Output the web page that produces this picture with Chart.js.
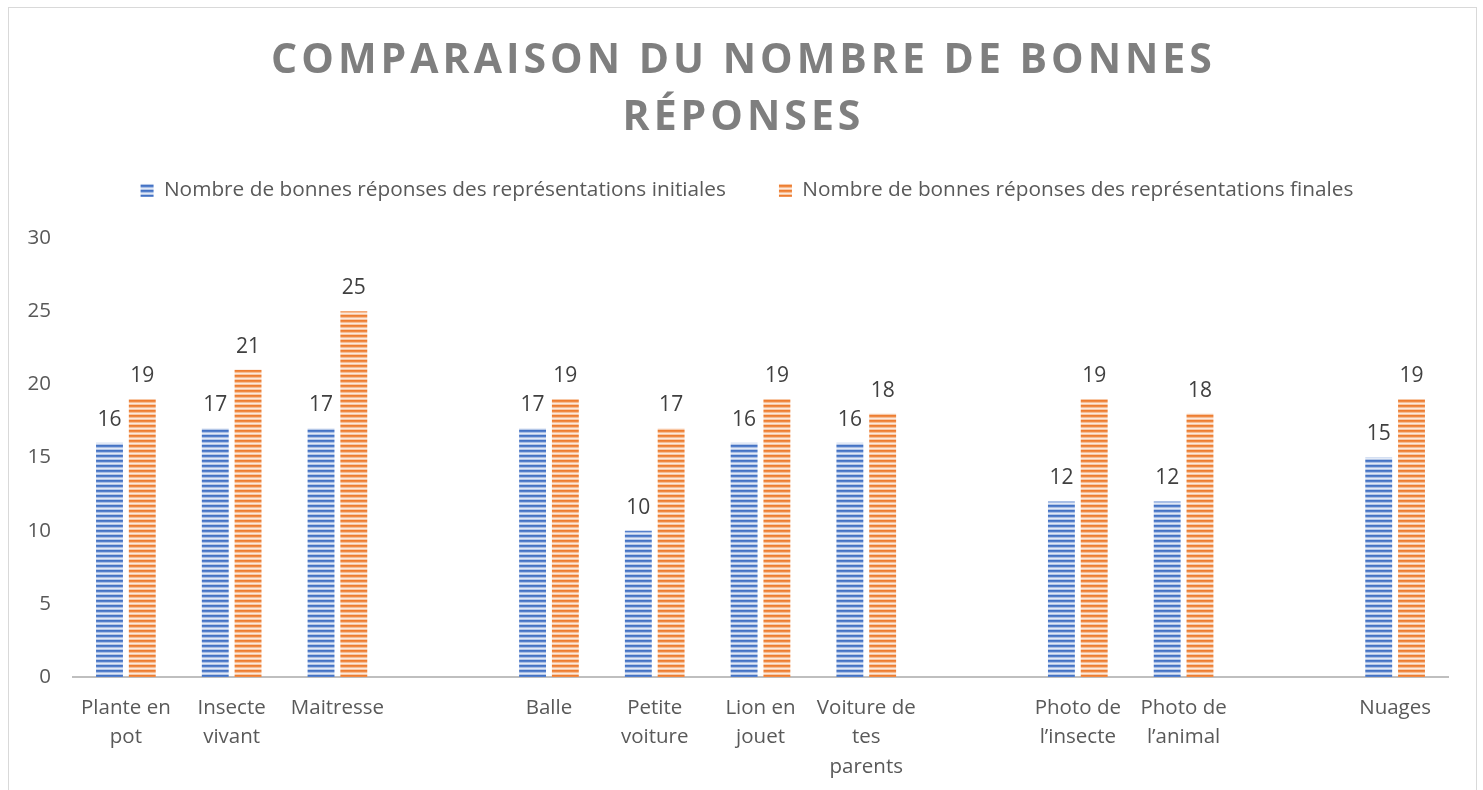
<!DOCTYPE html>
<html>
<head>
<meta charset="utf-8">
<script src="https://cdn.jsdelivr.net/npm/chart.js@4"></script>
<style>
  html, body { margin: 0; padding: 0; background: #fff; }
  #wrap { width: 1483px; height: 790px; }
</style>
</head>
<body>
<div id="wrap"><canvas id="chart"></canvas></div>
<script>
const categories = [
  ['Plante en', 'pot'], ['Insecte', 'vivant'], 'Maitresse', '',
  'Balle', ['Petite', 'voiture'], ['Lion en', 'jouet'], ['Voiture de', 'tes', 'parents'], '',
  ['Photo de', 'l’insecte'], ['Photo de', 'l’animal'], '', 'Nuages'
];
const initialValues = [16, 17, 17, null, 17, 10, 16, 16, null, 12, 12, null, 15];
const finalValues = [19, 21, 25, null, 19, 17, 19, 18, null, 19, 18, null, 19];
const seriesNames = [
  'Nombre de bonnes réponses des représentations initiales',
  'Nombre de bonnes réponses des représentations finales'
];
const titleLines = ['COMPARAISON DU NOMBRE DE BONNES', 'RÉPONSES'];

// horizontal stripes, like the Office pattern fill
function stripes(rows) {
  const c = document.createElement('canvas');
  c.width = 4; c.height = rows.length;
  const g = c.getContext('2d');
  rows.forEach((col, i) => { g.fillStyle = col; g.fillRect(0, i, 4, 1); });
  return g.createPattern(c, 'repeat');
}
const bluePattern = stripes(['#4472c4', '#5580cb', '#a9bfe6', '#e2e9f6', '#b4c7e7']);
const orangePattern = stripes(['#ed7d31', '#ef8a44', '#f6bd95', '#fce9dc', '#f8c8a6']);

const frame = {
  id: 'frame',
  beforeDraw(chart) {
    const ctx = chart.ctx;
    ctx.save();
    ctx.strokeStyle = '#d9d9d9';
    ctx.lineWidth = 1;
    ctx.strokeRect(8.5, 7.5, chart.width - 15, chart.height + 20);
    ctx.restore();
  },
  afterDraw(chart) {
    const ctx = chart.ctx;
    ctx.save();
    ctx.fillStyle = '#7f7f7f';
    ctx.font = 'bold 41px "Open Sans"';
    ctx.letterSpacing = '4px';
    ctx.textAlign = 'center';
    ctx.textBaseline = 'alphabetic';
    ctx.fillText(titleLines[0], chart.width / 2 + 2, 73);
    ctx.fillText(titleLines[1], chart.width / 2 + 2, 130);
    ctx.restore();
  }
};

const valueLabels = {
  id: 'valueLabels',
  afterDatasetsDraw(chart) {
    const ctx = chart.ctx;
    ctx.save();
    ctx.fillStyle = '#404040';
    ctx.font = '21px "Open Sans"';
    ctx.textAlign = 'center';
    ctx.textBaseline = 'middle';
    chart.data.datasets.forEach((ds, i) => {
      chart.getDatasetMeta(i).data.forEach((bar, j) => {
        if (ds.data[j] == null) return;
        ctx.fillText(ds.data[j], bar.x, bar.y - 23);
      });
    });
    ctx.restore();
  }
};

// legend needs more room under it than Chart.js gives
const legendRoom = {
  id: 'legendRoom',
  beforeLayout(chart) {
    const lg = chart.legend;
    if (!lg || lg._patched) return;
    const fit = lg.fit;
    lg.fit = function () { fit.call(this); this.height = 111; };
    lg._patched = true;
  }
};

const ctx = document.getElementById('chart');
new Chart(ctx, {
  type: 'bar',
  data: {
    labels: categories,
    datasets: [
      { label: seriesNames[0], data: initialValues, backgroundColor: bluePattern },
      { label: seriesNames[1], data: finalValues, backgroundColor: orangePattern }
    ]
  },
  options: {
    responsive: true,
    maintainAspectRatio: false,
    animation: false,
    datasets: { bar: { categoryPercentage: 0.62, barPercentage: 0.82 } },
    layout: { padding: { top: 127, left: 11, right: 0, bottom: 0 } },
    plugins: {
      title: { display: false },
      tooltip: { enabled: false },
      legend: {
        position: 'top',
        labels: {
          boxWidth: 13, boxHeight: 13, padding: 53,
          color: '#595959',
          font: { family: 'Open Sans', size: 20.8 }
        }
      }
    },
    scales: {
      x: {
        grid: { display: false, drawTicks: false },
        border: { color: '#bfbfbf', width: 2 },
        ticks: {
          autoSkip: false, maxRotation: 0, padding: 16,
          color: '#595959',
          font: { family: 'Open Sans', size: 20.5, lineHeight: 1.45 }
        },
        afterFit(s) { s.height = 113; }
      },
      y: {
        min: 0, max: 30,
        grid: { display: false, drawTicks: false },
        border: { display: false },
        ticks: {
          stepSize: 5, padding: 22,
          color: '#595959',
          font: { family: 'Open Sans', size: 20.5 }
        },
        afterFit(s) { s.width = 62; }
      },
      // empty right margin, so the legend centres like the original
      yRight: {
        position: 'right',
        grid: { display: false, drawTicks: false },
        border: { display: false },
        ticks: { display: false },
        afterFit(s) { s.width = 35; }
      }
    }
  },
  plugins: [frame, valueLabels, legendRoom]
});
</script>
</body>
</html>
